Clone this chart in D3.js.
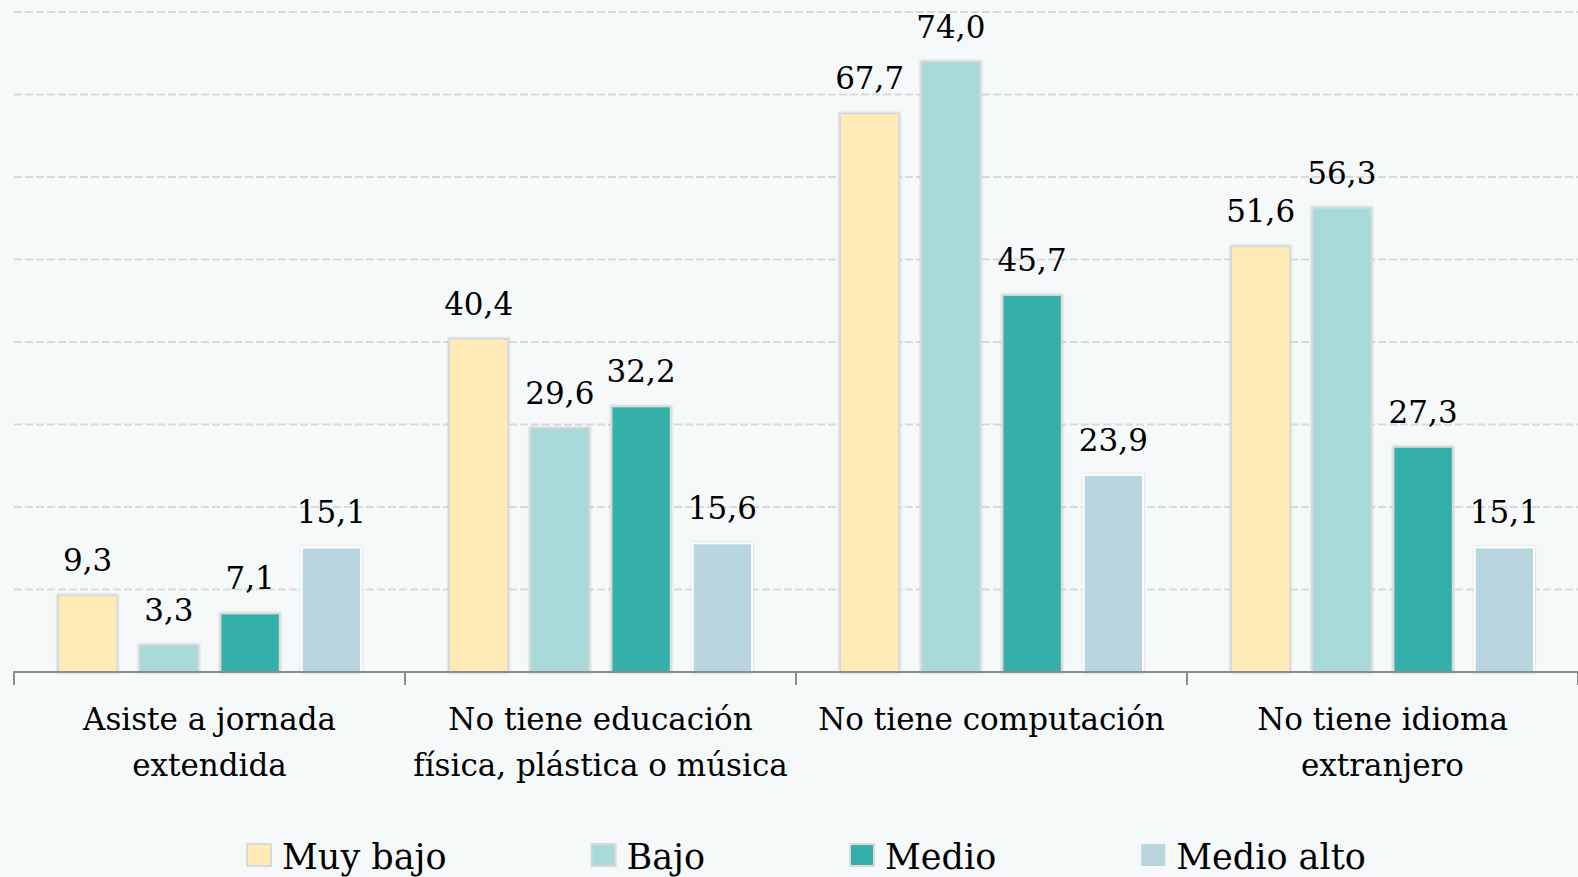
<!DOCTYPE html>
<html>
<head>
<meta charset="utf-8">
<script src="https://cdn.jsdelivr.net/npm/d3@7"></script>
<style>
  html, body { margin: 0; padding: 0; background: #f5f9fa; }
  svg { display: block; }
  text { font-family: "DejaVu Serif", serif; fill: #000; }
</style>
</head>
<body>
<svg id="chart"></svg>
<script>
const categories = [
	['Asiste a jornada', 'extendida'],
	['No tiene educación', 'física, plástica o música'],
	['No tiene computación'],
	['No tiene idioma', 'extranjero']
]
const series = ['Muy bajo', 'Bajo', 'Medio', 'Medio alto']
const muyBajo = [9.3, 40.4, 67.7, 51.6]
const bajo = [3.3, 29.6, 74.0, 56.3]
const medio = [7.1, 32.2, 45.7, 27.3]
const medioAlto = [15.1, 15.6, 23.9, 15.1]
const gridTicks = [10, 20, 30, 40, 50, 60, 70, 80]

const colors = ['#feebb6', '#a7dad8', '#36afa9', '#b8d5e0']
const borders = ['#d9d9d9', '#d9d9d9', '#d9d9d9', '#ffffff']

const width = 1578, height = 877
const svg = d3.select('#chart').attr('width', width).attr('height', height)

const values = [muyBajo, bajo, medio, medioAlto]
const rows = categories.map((c, i) => ({ cat: i, vals: values.map(s => s[i]) }))

const x0 = d3.scaleBand().domain(d3.range(categories.length)).range([14, 1578]).padding(0)
const x1 = d3.scaleBand().domain(d3.range(series.length))
			.range([44, x0.bandwidth() - 44]).paddingInner(0.27).paddingOuter(0)
const y = d3.scaleLinear().domain([0, 80]).range([672, 12])

// soft shadow under the bars
const defs = svg.append('defs')
const f = defs.append('filter').attr('id', 'shadow').attr('x', '-20%').attr('y', '-20%').attr('width', '140%').attr('height', '140%')
f.append('feDropShadow').attr('dx', 0).attr('dy', 0).attr('stdDeviation', 1.2).attr('flood-color', '#000').attr('flood-opacity', 0.18)

// grid
svg.append('g').selectAll('line')
	.data(gridTicks)
	.enter().append('line')
	.attr('x1', 14).attr('x2', width)
	.attr('y1', d => y(d)).attr('y2', d => y(d))
	.attr('stroke', '#d9d9d9').attr('stroke-width', 2)
	.attr('stroke-dasharray', '8,3')

// bars
const groups = svg.append('g').selectAll('g')
	.data(rows)
	.enter().append('g')
	.attr('transform', d => `translate(${x0(d.cat)},0)`)

groups.selectAll('rect')
	.data(d => d.vals.map((v, i) => ({ v, i })))
	.enter().append('rect')
	.attr('x', d => x1(d.i))
	.attr('y', d => y(d.v))
	.attr('width', x1.bandwidth())
	.attr('height', d => y(0) - y(d.v))
	.attr('fill', d => colors[d.i])
	.attr('stroke', d => borders[d.i])
	.attr('stroke-width', 2)
	.attr('filter', 'url(#shadow)')

groups.selectAll('text')
	.data(d => d.vals.map((v, i) => ({ v, i })))
	.enter().append('text')
	.attr('x', d => x1(d.i) + x1.bandwidth() / 2)
	.attr('y', d => y(d.v) - 24)
	.attr('text-anchor', 'middle')
	.style('font-size', '31px')
	.text(d => d.v.toFixed(1).replace('.', ','))

// x axis
const xAxis = d3.axisBottom(x0).tickSize(13).tickFormat('')
const axisG = svg.append('g').attr('transform', 'translate(0,672)').call(xAxis)
axisG.select('.domain').attr('stroke', '#8c8c8c').attr('stroke-width', 2).attr('d', `M14,13V0H${width}V13`)
axisG.selectAll('.tick').remove()
axisG.selectAll('.tk')
	.data(d3.range(categories.length + 1))
	.enter().append('line')
	.attr('x1', d => 14 + d * x0.bandwidth()).attr('x2', d => 14 + d * x0.bandwidth())
	.attr('y1', 0).attr('y2', 13)
	.attr('stroke', '#8c8c8c').attr('stroke-width', 2)

// category labels
svg.append('g').selectAll('text')
	.data(categories)
	.enter().append('text')
	.attr('text-anchor', 'middle')
	.attr('x', (d, i) => x0(i) + x0.bandwidth() / 2)
	.attr('y', 730)
	.style('font-size', '31px')
	.selectAll('tspan')
	.data(d => d)
	.enter().append('tspan')
	.attr('x', function() { return this.parentNode.getAttribute('x') })
	.attr('dy', (d, i) => i == 0 ? 0 : 46)
	.text(d => d)

// legend
const legend = svg.append('g')
const items = legend.selectAll('g')
	.data(series)
	.enter().append('g')
items.append('rect')
	.attr('width', 24).attr('height', 22)
	.attr('y', 844)
	.attr('fill', (d, i) => colors[i])
	.attr('stroke', (d, i) => borders[i] == '#ffffff' ? 'none' : '#d9d9d9')
	.attr('stroke-width', 2)
items.append('text')
	.attr('x', 35).attr('y', 869)
	.style('font-size', '35px')
	.text(d => d)

let pos = 247
items.each(function() {
	const w = d3.select(this).select('text').node().getComputedTextLength()
	d3.select(this).attr('transform', `translate(${pos},0)`)
	pos += 35 + w + 145
})
</script>
</body>
</html>
